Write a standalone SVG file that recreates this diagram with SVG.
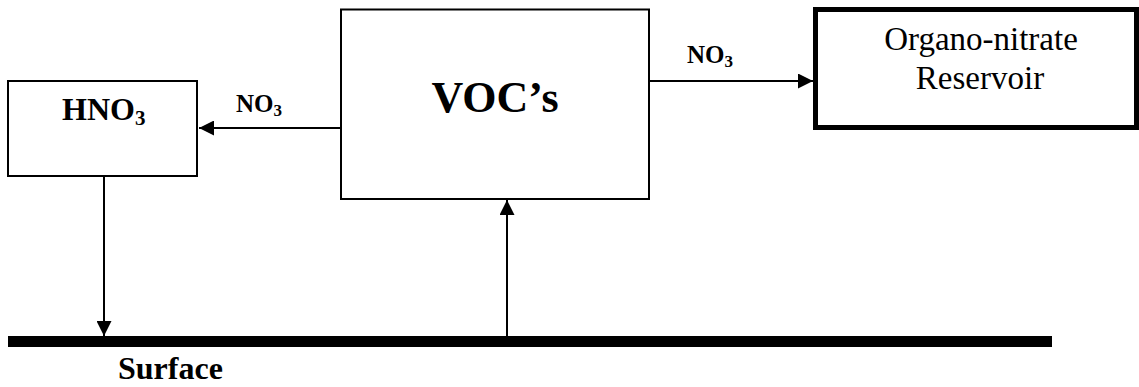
<svg xmlns="http://www.w3.org/2000/svg" width="1139" height="387" viewBox="0 0 1139 387">
  <style>
    .box { fill: #ffffff; stroke: #000000; stroke-width: 2; }
    .thick { fill: #ffffff; stroke: #000000; stroke-width: 5; }
    .conn { fill: none; stroke: #000000; stroke-width: 2; }
    .b { font-family: "Liberation Serif", "Times New Roman", serif; font-weight: bold; fill: #000000; }
    .r { font-family: "Liberation Serif", "Times New Roman", serif; fill: #000000; }
  </style>
  <defs>
    <marker id="arrow" markerUnits="userSpaceOnUse" markerWidth="15" markerHeight="15" refX="15" refY="7.5" orient="auto">
      <path d="M0,0 L15,7.5 L0,15 z" fill="#000000"/>
    </marker>
  </defs>

  <g id="connectors">
    <line class="conn" x1="341" y1="128" x2="199" y2="128" marker-end="url(#arrow)"/>
    <line class="conn" x1="649" y1="81" x2="813" y2="81" marker-end="url(#arrow)"/>
    <line class="conn" x1="104" y1="176" x2="104" y2="336" marker-end="url(#arrow)"/>
    <line class="conn" x1="507" y1="336" x2="507" y2="200" marker-end="url(#arrow)"/>
    <text class="b" x="236" y="112" font-size="25">NO<tspan font-size="17" dy="4">3</tspan></text>
    <text class="b" x="687" y="63" font-size="25">NO<tspan font-size="17" dy="4">3</tspan></text>
  </g>

  <g id="hno3">
    <rect class="box" x="8" y="81" width="189" height="95"/>
    <text class="b" x="62" y="120" font-size="32">HNO<tspan font-size="21" dy="5">3</tspan></text>
  </g>

  <g id="vocs">
    <rect class="box" x="341" y="9.5" width="308" height="189.5"/>
    <text class="b" x="495" y="112" font-size="44" text-anchor="middle">VOC’s</text>
  </g>

  <g id="reservoir">
    <rect class="thick" x="815.5" y="9.5" width="321" height="118"/>
    <text class="r" x="981" y="50" font-size="33" text-anchor="middle">Organo-nitrate</text>
    <text class="r" x="980" y="89" font-size="33" text-anchor="middle">Reservoir</text>
  </g>

  <g id="surface">
    <rect x="8" y="336" width="1044" height="11" fill="#000000"/>
    <text class="b" x="118" y="379" font-size="32">Surface</text>
  </g>
</svg>
